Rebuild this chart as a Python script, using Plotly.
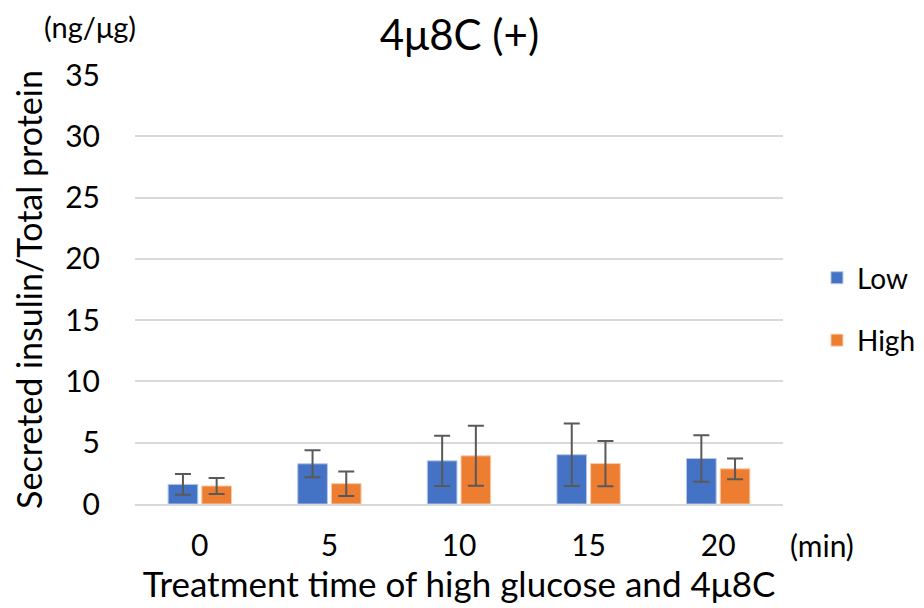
import plotly.graph_objects as go

categories = ["0", "5", "10", "15", "20"]
low_values = [1.6, 3.28, 3.52, 4.02, 3.71]
low_errors = [0.85, 1.1, 2.05, 2.55, 1.9]
high_values = [1.47, 1.66, 3.93, 3.3, 2.87]
high_errors = [0.65, 1.0, 2.45, 1.85, 0.85]
y_ticks = [0, 5, 10, 15, 20, 25, 30, 35]

FONT = "Lato"
err_color = "#595959"

fig = go.Figure()
fig.add_trace(go.Bar(
    name="Low", x=categories, y=low_values,
    marker=dict(color="#4472C4", line=dict(color="#B4C7E7", width=1)),
    error_y=dict(type="data", array=low_errors, color=err_color, thickness=2, width=8),
    legendgroup="a",
))
fig.add_trace(go.Bar(
    name="High", x=categories, y=high_values,
    marker=dict(color="#ED7D31", line=dict(color="#F8CBAD", width=1)),
    error_y=dict(type="data", array=high_errors, color=err_color, thickness=2, width=8),
    legendgroup="b",
))

fig.update_layout(
    width=924, height=608,
    margin=dict(l=127, r=149, t=67, b=112, autoexpand=False),
    paper_bgcolor="white", plot_bgcolor="white",
    font=dict(family=FONT, color="#000000"),
    barmode="group", bargap=0.48, bargroupgap=0.12,
    title=dict(text="4μ8C (+)", x=0.4886, xanchor="center", y=0.955, yanchor="middle",
               font=dict(size=42, family=FONT)),
    legend=dict(xref="container", yref="container", x=0.8755, y=0.597,
                xanchor="left", yanchor="top",
                font=dict(size=28, family=FONT), tracegroupgap=23,
                traceorder="grouped", itemwidth=30),
    showlegend=True,
)
fig.update_xaxes(
    showline=True, linecolor="#D9D9D9", linewidth=1.5,
    tickfont=dict(size=30, family=FONT), ticks="", ticklabelstandoff=14,
    title=dict(text="Treatment time of high glucose and 4μ8C", font=dict(size=35, family=FONT), standoff=4),
)
fig.update_yaxes(
    range=[0, 35], tickvals=y_ticks, showgrid=True, gridcolor="#D9D9D9", gridwidth=1.5,
    zeroline=False, tickfont=dict(size=30, family=FONT), ticklabelstandoff=34,
    title=dict(text="Secreted insulin/Total protein", font=dict(size=34, family=FONT), standoff=14),
)
fig.add_annotation(text="(ng/μg)", xref="paper", yref="paper", x=-0.069, y=1.112,
                   xanchor="center", yanchor="middle", showarrow=False,
                   font=dict(size=29, family=FONT))
fig.add_annotation(text="(min)", xref="paper", yref="paper", x=1.0077, y=-0.0956,
                   xanchor="left", yanchor="middle", showarrow=False,
                   font=dict(size=30, family=FONT))

fig.write_html("out.html")
